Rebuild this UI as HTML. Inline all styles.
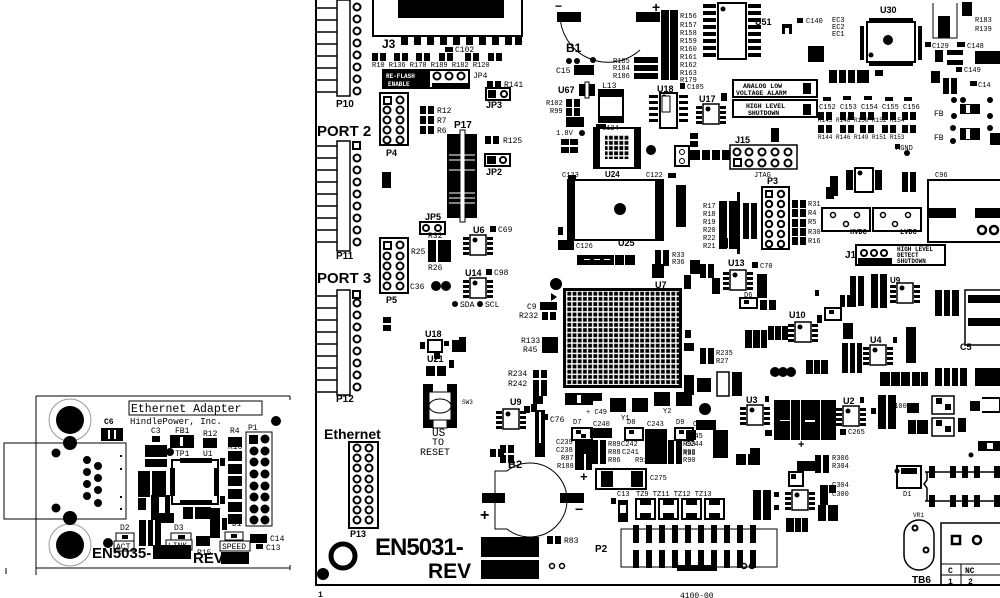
<!DOCTYPE html>
<html><head><meta charset="utf-8"><style>
html,body{margin:0;padding:0;background:#fff;}
svg{display:block}
text{font-family:"Liberation Mono",monospace;font-weight:bold;fill:#000}
.s{font-size:8px}
.m{font-size:10px}
.b{font-family:"Liberation Sans",sans-serif;font-weight:bold}
</style></head><body>
<svg width="1000" height="598" viewBox="0 0 1000 598" xmlns="http://www.w3.org/2000/svg">
<defs>
<pattern id="bga" width="5.2" height="5.2" patternUnits="userSpaceOnUse">
<rect width="5.2" height="5.2" fill="#fff"/><rect x="0.6" y="0.6" width="3.8" height="3.8" fill="#000"/>
</pattern>
<g id="r"><rect width="14" height="8" fill="#000"/><rect x="6" y="0" width="2" height="8" fill="#fff"/></g>
<g id="rv"><rect width="8" height="14" fill="#000"/><rect x="0" y="6" width="8" height="2" fill="#fff"/></g>
<g id="so8"><rect x="0" y="0" width="16" height="20" fill="#fff" stroke="#000" stroke-width="1.5"/><circle cx="5" cy="5" r="2.5"/>
<rect x="-7" y="2" width="6" height="3"/><rect x="-7" y="7" width="6" height="3"/><rect x="-7" y="12" width="6" height="3"/><rect x="-7" y="17" width="6" height="3"/>
<rect x="17" y="2" width="6" height="3"/><rect x="17" y="7" width="6" height="3"/><rect x="17" y="12" width="6" height="3"/><rect x="17" y="17" width="6" height="3"/></g>
</defs>

<!-- ============ LEFT SMALL BOARD ============ -->
<g>
<line x1="36" y1="396" x2="36" y2="575" stroke="#000" stroke-width="1"/>
<line x1="36" y1="396" x2="290" y2="396" stroke="#000"/>
<line x1="36" y1="568" x2="290" y2="568" stroke="#000"/>
<line x1="290" y1="396" x2="290" y2="400" stroke="#000"/>
<line x1="290" y1="565" x2="290" y2="570" stroke="#000"/>
<line x1="6" y1="568" x2="6" y2="574" stroke="#000"/>
<rect x="4" y="443" width="122" height="76" fill="none" stroke="#000"/>
<circle cx="70" cy="420" r="21" fill="#fff" stroke="#999" stroke-width="1"/>
<circle cx="70" cy="420" r="14"/>
<circle cx="70" cy="545" r="21" fill="#fff" stroke="#999"/>
<circle cx="70" cy="545" r="14"/>
<circle cx="70" cy="443" r="7"/><circle cx="70" cy="518" r="7"/>
<circle cx="56" cy="453" r="4.5"/><circle cx="56" cy="508" r="4.5"/>
<circle cx="87" cy="460" r="4"/><circle cx="87" cy="472" r="4"/><circle cx="87" cy="484" r="4"/><circle cx="87" cy="496" r="4"/>
<circle cx="98" cy="466" r="4"/><circle cx="98" cy="478" r="4"/><circle cx="98" cy="490" r="4"/><circle cx="98" cy="503" r="4"/>
<rect x="120" y="455" width="2" height="2"/><rect x="120" y="468" width="2" height="2"/><rect x="120" y="496" width="2" height="2"/><rect x="120" y="508" width="2" height="2"/>
<text x="104" y="424" class="s">C6</text>
<rect x="101" y="428" width="22" height="13"/><rect x="108" y="430" width="2" height="9" fill="#fff"/><rect x="114" y="430" width="2" height="9" fill="#fff"/>
<rect x="129" y="401" width="133" height="14" fill="#fff" stroke="#000"/>
<text x="131" y="412" style="font-size:11.5px;font-weight:normal">Ethernet Adapter</text>
<text x="130" y="424" style="font-size:9px;font-weight:normal">HindlePower, Inc.</text>
<circle cx="276" cy="421" r="5"/>
<text x="151" y="433" class="s" style="font-weight:normal">C3</text>
<rect x="152" y="436" width="8" height="6"/>
<text x="175" y="433" class="s" style="font-weight:normal">FB1</text>
<rect x="170" y="435" width="24" height="13"/><rect x="180" y="437" width="3" height="9" fill="#fff"/>
<text x="203" y="436" class="s" style="font-weight:normal">R12</text>
<rect x="203" y="438" width="14" height="10"/>
<text x="230" y="433" class="s" style="font-weight:normal">R4</text>
<rect x="228" y="437" width="14" height="10"/>
<rect x="145" y="445" width="22" height="12"/><rect x="145" y="459" width="22" height="8"/>
<circle cx="170" cy="452" r="4"/><text x="175" y="456" class="s" style="font-weight:normal">TP1</text>
<text x="203" y="456" class="s" style="font-weight:normal">U1</text>
<rect x="172" y="460" width="46" height="44" fill="#fff" stroke="#000" stroke-width="2"/>
<rect x="180" y="458" width="32" height="5"/><rect x="180" y="500" width="32" height="5"/>
<rect x="170" y="468" width="5" height="28"/><rect x="214" y="468" width="5" height="28"/>
<rect x="220" y="458" width="5" height="8"/><rect x="220" y="496" width="5" height="8"/>
<rect x="228" y="451" width="14" height="10"/><text x="228" y="449" class="s" style="font-weight:normal">R10</text>
<rect x="228" y="464" width="14" height="10"/><rect x="228" y="476" width="14" height="10"/>
<rect x="228" y="489" width="14" height="10"/><rect x="228" y="502" width="14" height="10"/><rect x="228" y="514" width="14" height="10"/>
<rect x="246" y="432" width="26" height="94" fill="#fff" stroke="#000"/>
<text x="248" y="430" class="s" style="font-weight:normal">P1</text>
<rect x="249" y="435" width="9" height="9"/>
<circle cx="265" cy="439" r="4.5"/>
<g><circle cx="254" cy="451" r="4.5"/><circle cx="265" cy="451" r="4.5"/><circle cx="254" cy="462" r="4.5"/><circle cx="265" cy="462" r="4.5"/><circle cx="254" cy="474" r="4.5"/><circle cx="265" cy="474" r="4.5"/><circle cx="254" cy="486" r="4.5"/><circle cx="265" cy="486" r="4.5"/><circle cx="254" cy="497" r="4.5"/><circle cx="265" cy="497" r="4.5"/><circle cx="254" cy="509" r="4.5"/><circle cx="265" cy="509" r="4.5"/><circle cx="254" cy="520" r="4.5"/><circle cx="265" cy="520" r="4.5"/></g>
<rect x="138" y="471" width="28" height="26"/><rect x="150" y="471" width="2" height="26" fill="#fff"/>
<rect x="138" y="498" width="8" height="12"/><rect x="151" y="495" width="8" height="28"/><rect x="165" y="495" width="5" height="22"/>
<rect x="154" y="513" width="20" height="10"/>
<rect x="183" y="507" width="28" height="12"/><rect x="193" y="507" width="2" height="12" fill="#fff"/>
<rect x="210" y="508" width="10" height="30"/><rect x="222" y="518" width="5" height="12"/>
<rect x="139" y="520" width="22" height="26"/><rect x="146" y="520" width="2" height="26" fill="#fff"/><rect x="153" y="520" width="2" height="26" fill="#fff"/>
<rect x="116" y="533" width="18" height="8" fill="none" stroke="#000"/><rect x="122" y="535" width="6" height="4"/>
<text x="120" y="530" class="s" style="font-weight:normal">D2</text>
<rect x="114" y="541" width="20" height="10" fill="#fff" stroke="#000"/><text x="116" y="549" class="s" style="font-weight:normal">ACT</text>
<circle cx="108" cy="543" r="5"/>
<text x="174" y="530" class="s" style="font-weight:normal">D3</text>
<rect x="171" y="533" width="20" height="8" fill="none" stroke="#000"/><rect x="178" y="535" width="7" height="4"/>
<rect x="166" y="540" width="26" height="10" fill="#fff" stroke="#000"/><text x="168" y="548" class="s" style="font-weight:normal">LINK</text>
<rect x="196" y="536" width="14" height="10"/><text x="197" y="555" class="s" style="font-weight:normal">R15</text>
<text x="232" y="526" class="s" style="font-weight:normal">D1</text>
<rect x="225" y="532" width="18" height="8" fill="none" stroke="#000"/><rect x="231" y="534" width="6" height="4"/>
<rect x="220" y="541" width="30" height="10" fill="#fff" stroke="#000"/><text x="222" y="549" class="s" style="font-weight:normal">SPEED</text>
<rect x="250" y="534" width="17" height="9"/><text x="270" y="541" class="s" style="font-weight:normal">C14</text>
<rect x="256" y="544" width="7" height="5"/><text x="266" y="550" class="s" style="font-weight:normal">C13</text>
<text x="92" y="558" class="b" style="font-size:15px">EN5035-</text>
<rect x="153" y="545" width="38" height="14"/>
<text x="193" y="563" class="b" style="font-size:15px">REV</text>
<rect x="221" y="552" width="28" height="12"/>
</g>

<!-- ============ MAIN BOARD ============ -->
<rect x="315" y="0" width="2" height="586"/>
<rect x="315" y="584" width="685" height="2"/>
<text x="318" y="597" class="s">1</text>
<text x="680" y="598" class="s" style="font-weight:normal">4100-00</text>

<!-- left header pins -->
<g stroke="#000" stroke-width="1.5">
<line x1="316" y1="8" x2="337" y2="8"/><line x1="316" y1="20" x2="337" y2="20"/><line x1="316" y1="32" x2="337" y2="32"/><line x1="316" y1="44" x2="337" y2="44"/><line x1="316" y1="56" x2="337" y2="56"/><line x1="316" y1="68" x2="337" y2="68"/><line x1="316" y1="80" x2="337" y2="80"/><line x1="316" y1="92" x2="337" y2="92"/>
<line x1="316" y1="146" x2="337" y2="146"/><line x1="316" y1="158" x2="337" y2="158"/><line x1="316" y1="170" x2="337" y2="170"/><line x1="316" y1="182" x2="337" y2="182"/><line x1="316" y1="194" x2="337" y2="194"/><line x1="316" y1="206" x2="337" y2="206"/><line x1="316" y1="218" x2="337" y2="218"/><line x1="316" y1="230" x2="337" y2="230"/><line x1="316" y1="242" x2="337" y2="242"/>
<line x1="316" y1="296" x2="337" y2="296"/><line x1="316" y1="308" x2="337" y2="308"/><line x1="316" y1="320" x2="337" y2="320"/><line x1="316" y1="332" x2="337" y2="332"/><line x1="316" y1="344" x2="337" y2="344"/><line x1="316" y1="356" x2="337" y2="356"/><line x1="316" y1="368" x2="337" y2="368"/><line x1="316" y1="380" x2="337" y2="380"/><line x1="316" y1="392" x2="337" y2="392"/>
</g>
<g fill="#fff" stroke="#000" stroke-width="1.5">
<rect x="337" y="0" width="13" height="96"/>
<rect x="337" y="141" width="13" height="110"/>
<rect x="337" y="290" width="13" height="105"/>
</g>
<g fill="none" stroke="#000" stroke-width="2">
<circle cx="357" cy="7" r="3.5"/><circle cx="357" cy="19" r="3.5"/><circle cx="357" cy="31" r="3.5"/><circle cx="357" cy="43" r="3.5"/><circle cx="357" cy="55" r="3.5"/><circle cx="357" cy="67" r="3.5"/><circle cx="357" cy="79" r="3.5"/><circle cx="357" cy="91" r="3.5"/>
<circle cx="357" cy="158" r="3.5"/><circle cx="357" cy="170" r="3.5"/><circle cx="357" cy="182" r="3.5"/><circle cx="357" cy="194" r="3.5"/><circle cx="357" cy="206" r="3.5"/><circle cx="357" cy="218" r="3.5"/><circle cx="357" cy="230" r="3.5"/><circle cx="357" cy="242" r="3.5"/>
<circle cx="357" cy="303" r="3.5"/><circle cx="357" cy="315" r="3.5"/><circle cx="357" cy="327" r="3.5"/><circle cx="357" cy="339" r="3.5"/><circle cx="357" cy="351" r="3.5"/><circle cx="357" cy="363" r="3.5"/><circle cx="357" cy="375" r="3.5"/><circle cx="357" cy="387" r="3.5"/>
</g>
<rect x="353" y="142" width="7" height="7" fill="none" stroke="#000" stroke-width="2"/>
<rect x="353" y="291" width="7" height="7" fill="none" stroke="#000" stroke-width="2"/>
<text x="336" y="107" class="b" style="font-size:10px">P10</text>
<text x="336" y="259" class="b" style="font-size:10px">P11</text>
<text x="336" y="402" class="b" style="font-size:10px">P12</text>
<text x="317" y="136" class="b" style="font-size:15px">PORT 2</text>
<text x="317" y="283" class="b" style="font-size:15px">PORT 3</text>

<!-- J3 -->
<path d="M373 0 V36 H522 V0" fill="none" stroke="#000" stroke-width="2"/>
<rect x="398" y="0" width="106" height="18"/>
<g><rect x="401" y="37" width="7" height="8"/><rect x="414" y="37" width="7" height="8"/><rect x="427" y="37" width="7" height="8"/><rect x="440" y="37" width="7" height="8"/><rect x="453" y="37" width="7" height="8"/><rect x="466" y="37" width="7" height="8"/><rect x="479" y="37" width="7" height="8"/><rect x="492" y="37" width="7" height="8"/><rect x="505" y="37" width="7" height="8"/><rect x="515" y="37" width="7" height="8"/></g>
<text x="382" y="48" class="b" style="font-size:12px">J3</text>
<rect x="445" y="47" width="8" height="5"/><text x="455" y="52" class="s" style="font-weight:normal">C102</text>
<use href="#r" x="372" y="53"/><use href="#r" x="394" y="53"/><use href="#r" x="416" y="53"/><use href="#r" x="439" y="53"/><use href="#r" x="465" y="53"/><use href="#r" x="488" y="53"/>
<text x="372" y="67" class="s" style="font-size:7px;font-weight:normal">R10 R136 R178 R189 R182 R120</text>
<rect x="383" y="70" width="86" height="18" fill="#fff" stroke="#000" stroke-width="2"/>
<rect x="384" y="71" width="46" height="16"/>
<text x="386" y="78" style="font-size:6px;fill:#fff">RE-FLASH</text><text x="388" y="86" style="font-size:6px;fill:#fff">ENABLE</text>
<circle cx="437" cy="76" r="3.5" fill="none" stroke="#000" stroke-width="2"/><circle cx="449" cy="76" r="3.5" fill="none" stroke="#000" stroke-width="2"/><circle cx="461" cy="76" r="3.5" fill="none" stroke="#000" stroke-width="2"/>
<rect x="432" y="83" width="36" height="5"/>
<text x="473" y="78" class="s" style="font-weight:normal">JP4</text>
<use href="#r" x="487" y="81"/><text x="504" y="87" class="s" style="font-weight:normal">R141</text>
<rect x="486" y="88" width="24" height="12" fill="#fff" stroke="#000" stroke-width="2"/><rect x="488" y="90" width="8" height="8"/><circle cx="504" cy="94" r="3" fill="none" stroke="#000" stroke-width="2"/>
<text x="486" y="108" class="b" style="font-size:9px">JP3</text>
<!-- P4 -->
<rect x="380" y="93" width="28" height="52" fill="#fff" stroke="#000" stroke-width="2"/>
<g fill="none" stroke="#000" stroke-width="2"><rect x="384" y="97" width="7" height="7"/><circle cx="400" cy="100" r="3.5"/><circle cx="387" cy="110" r="3.5"/><circle cx="400" cy="110" r="3.5"/><circle cx="387" cy="120" r="3.5"/><circle cx="400" cy="120" r="3.5"/><circle cx="387" cy="130" r="3.5"/><circle cx="400" cy="130" r="3.5"/><circle cx="387" cy="140" r="3.5"/><circle cx="400" cy="140" r="3.5"/></g>
<text x="386" y="156" class="b" style="font-size:9px">P4</text>
<use href="#r" x="420" y="106"/><text x="437" y="113" class="s" style="font-weight:normal">R12</text>
<use href="#r" x="420" y="116"/><text x="437" y="123" class="s" style="font-weight:normal">R7</text>
<use href="#r" x="420" y="126"/><text x="437" y="133" class="s" style="font-weight:normal">R6</text>
<rect x="382" y="172" width="9" height="16"/>
<!-- P17 -->
<rect x="447" y="134" width="30" height="84"/>
<rect x="460" y="130" width="5" height="92" fill="#fff" stroke="#000"/>
<g stroke="#fff" stroke-width="1"><line x1="449" y1="155" x2="475" y2="155"/><line x1="449" y1="160" x2="475" y2="160"/><line x1="449" y1="170" x2="475" y2="170"/><line x1="449" y1="193" x2="475" y2="193"/><line x1="449" y1="198" x2="475" y2="198"/><line x1="449" y1="203" x2="475" y2="203"/></g>
<text x="454" y="128" class="b" style="font-size:10px">P17</text>
<use href="#r" x="485" y="136"/><text x="503" y="143" class="s" style="font-weight:normal">R125</text>
<rect x="485" y="154" width="25" height="12" fill="#fff" stroke="#000" stroke-width="2"/><rect x="487" y="156" width="9" height="8"/><circle cx="503" cy="160" r="3" fill="none" stroke="#000" stroke-width="2"/>
<text x="486" y="175" class="b" style="font-size:9px">JP2</text>
<!-- JP5 -->
<text x="425" y="220" class="b" style="font-size:9px">JP5</text>
<rect x="420" y="222" width="25" height="12" fill="#fff" stroke="#000" stroke-width="2"/><circle cx="426" cy="228" r="3" fill="none" stroke="#000" stroke-width="2"/><circle cx="438" cy="228" r="3" fill="none" stroke="#000" stroke-width="2"/>
<!-- P5 -->
<rect x="380" y="238" width="28" height="55" fill="#fff" stroke="#000" stroke-width="2"/>
<g fill="none" stroke="#000" stroke-width="2"><rect x="384" y="242" width="7" height="7"/><circle cx="400" cy="245" r="3.5"/><circle cx="387" cy="256" r="3.5"/><circle cx="400" cy="256" r="3.5"/><circle cx="387" cy="266" r="3.5"/><circle cx="400" cy="266" r="3.5"/><circle cx="387" cy="276" r="3.5"/><circle cx="400" cy="276" r="3.5"/><circle cx="387" cy="286" r="3.5"/><circle cx="400" cy="286" r="3.5"/></g>
<text x="386" y="303" class="b" style="font-size:9px">P5</text>
<text x="411" y="254" class="s" style="font-weight:normal">R25</text>
<rect x="428" y="240" width="18" height="22"/><rect x="436" y="240" width="2" height="22" fill="#fff"/><rect x="446" y="240" width="5" height="22"/>
<text x="428" y="270" class="s" style="font-weight:normal">R26</text>
<text x="428" y="238" class="s" style="font-weight:normal">R32</text>
<use href="#so8" x="470" y="235"/><text x="473" y="233" class="b" style="font-size:9px">U6</text>
<rect x="490" y="226" width="6" height="6"/><text x="498" y="232" class="s" style="font-weight:normal">C69</text>
<use href="#so8" x="470" y="278"/><text x="465" y="276" class="b" style="font-size:9px">U14</text>
<rect x="486" y="269" width="6" height="6"/><text x="494" y="275" class="s" style="font-weight:normal">C98</text>
<circle cx="436" cy="286" r="5"/><circle cx="446" cy="286" r="5"/><text x="410" y="289" class="s" style="font-weight:normal">C36</text>
<circle cx="455" cy="304" r="3"/><text x="460" y="307" class="s" style="font-weight:normal">SDA</text>
<circle cx="480" cy="304" r="3"/><text x="485" y="307" class="s" style="font-weight:normal">SCL</text>
<use href="#rv" x="383" y="317"/>
<!-- U18/U21/SW3 -->
<text x="425" y="337" class="b" style="font-size:9px">U18</text>
<rect x="428" y="340" width="14" height="12" fill="#fff" stroke="#000" stroke-width="2"/><rect x="420" y="342" width="5" height="7"/><rect x="444" y="341" width="5" height="5"/>
<rect x="434" y="353" width="6" height="6"/>
<text x="427" y="362" class="b" style="font-size:9px">U21</text>
<rect x="426" y="366" width="20" height="10"/><rect x="435" y="366" width="2" height="10" fill="#fff"/><rect x="449" y="360" width="5" height="8"/>
<rect x="452" y="340" width="14" height="12"/><rect x="459" y="337" width="7" height="6"/>
<rect x="423" y="384" width="10" height="44"/><rect x="447" y="384" width="10" height="44"/>
<rect x="429" y="392" width="22" height="28" fill="#fff" stroke="#000"/>
<ellipse cx="440" cy="406" rx="11" ry="7" fill="#fff" stroke="#000"/>
<rect x="433" y="420" width="14" height="8" fill="#fff" stroke="#000"/>
<text x="432" y="436" style="font-size:11px;font-weight:normal">US</text>
<text x="432" y="445" style="font-size:10px;font-weight:normal">TO</text>
<text x="420" y="455" style="font-size:10px;font-weight:normal">RESET</text>
<text x="462" y="404" class="s" style="font-weight:normal;font-size:6px">SW3</text>
<!-- Ethernet / P13 -->
<text x="324" y="439" class="b" style="font-size:14px">Ethernet</text>
<rect x="349" y="442" width="29" height="86" fill="#fff" stroke="#000" stroke-width="2"/>
<g fill="none" stroke="#000" stroke-width="2"><circle cx="357" cy="448" r="3.5"/><circle cx="369" cy="448" r="3.5"/><circle cx="357" cy="458" r="3.5"/><circle cx="369" cy="458" r="3.5"/><circle cx="357" cy="468" r="3.5"/><circle cx="369" cy="468" r="3.5"/><circle cx="357" cy="479" r="3.5"/><circle cx="369" cy="479" r="3.5"/><circle cx="357" cy="489" r="3.5"/><circle cx="369" cy="489" r="3.5"/><circle cx="357" cy="500" r="3.5"/><circle cx="369" cy="500" r="3.5"/><circle cx="357" cy="510" r="3.5"/><circle cx="369" cy="510" r="3.5"/><circle cx="357" cy="520" r="3.5"/><circle cx="369" cy="520" r="3.5"/></g>
<text x="350" y="537" class="b" style="font-size:9px">P13</text>
<circle cx="343" cy="556" r="12" fill="none" stroke="#000" stroke-width="5"/>
<circle cx="323" cy="574" r="6"/>
<text x="375" y="555" class="b" style="font-size:24px;letter-spacing:-1px">EN5031-</text>
<rect x="481" y="537" width="58" height="20"/>
<text x="428" y="578" class="b" style="font-size:21px">REV</text>
<rect x="481" y="560" width="58" height="19"/>
<circle cx="552" cy="566" r="2.5" fill="none" stroke="#000" stroke-width="1.5"/><circle cx="562" cy="566" r="2.5" fill="none" stroke="#000" stroke-width="1.5"/>
<use href="#r" x="547" y="536"/><text x="564" y="543" class="s" style="font-weight:normal">R83</text>
<!-- B2 -->
<path d="M507 471 H495 V529 H507 A37 37 0 1 0 507 471 Z" fill="#fff" stroke="#000" stroke-width="1"/>
<text x="508" y="468" class="b" style="font-size:11px">B2</text>
<rect x="482" y="493" width="23" height="10"/><rect x="560" y="493" width="24" height="10"/>
<text x="480" y="520" class="b" style="font-size:16px">+</text><text x="575" y="514" class="b" style="font-size:14px">−</text>
<!-- area around U9 -->
<rect x="531" y="404" width="6" height="8"/><rect x="535" y="410" width="10" height="40"/><rect x="539" y="412" width="2" height="36" fill="#fff"/>
<use href="#so8" x="503" y="409"/><text x="510" y="405" class="b" style="font-size:9px">U9</text>
<rect x="524" y="406" width="6" height="7"/>
<rect x="533" y="394" width="10" height="10"/>
<use href="#r" x="500" y="445"/><use href="#r" x="500" y="455"/><use href="#r" x="490" y="449"/>
<rect x="535" y="443" width="10" height="14"/>
<rect x="542" y="414" width="6" height="6"/><text x="550" y="422" class="s" style="font-weight:normal">C76</text>
<use href="#r" x="533" y="370"/><use href="#r" x="533" y="380"/><use href="#r" x="533" y="388"/>
<text x="508" y="376" class="s" style="font-weight:normal">R234</text><text x="508" y="386" class="s" style="font-weight:normal">R242</text>
<use href="#r" x="542" y="312"/><text x="519" y="318" class="s" style="font-weight:normal">R232</text>
<rect x="540" y="302" width="17" height="8"/><text x="527" y="309" class="s" style="font-weight:normal">C9</text>
<rect x="542" y="337" width="16" height="16"/><text x="521" y="343" class="s" style="font-weight:normal">R133</text><text x="523" y="352" class="s" style="font-weight:normal">R45</text>

<!-- B1 -->
<path d="M560 12 A48 48 0 0 0 640 50" fill="none" stroke="#000"/>
<rect x="557" y="12" width="24" height="10"/><rect x="636" y="12" width="24" height="10"/>
<text x="555" y="10" class="b" style="font-size:12px">−</text><text x="652" y="12" class="b" style="font-size:14px">+</text>
<text x="566" y="52" class="b" style="font-size:12px">B1</text>
<circle cx="569" cy="61" r="3"/><circle cx="577" cy="61" r="3"/><circle cx="593" cy="60" r="3"/>
<rect x="574" y="65" width="20" height="10"/><text x="556" y="73" class="s" style="font-weight:normal">C15</text>
<rect x="661" y="10" width="17" height="70"/><rect x="669" y="10" width="1" height="70" fill="#fff"/>
<g><rect x="634" y="57" width="24" height="6"/><rect x="634" y="65" width="24" height="6"/><rect x="634" y="73" width="24" height="6"/></g>
<text x="613" y="63" class="s" style="font-size:7px;font-weight:normal">R185</text>
<text x="613" y="70" class="s" style="font-size:7px;font-weight:normal">R184</text>
<text x="613" y="78" class="s" style="font-size:7px;font-weight:normal">R186</text>
<text x="680" y="18" class="s" style="font-size:7px;font-weight:normal">R156</text>
<text x="680" y="27" class="s" style="font-size:7px;font-weight:normal">R157</text>
<text x="680" y="35" class="s" style="font-size:7px;font-weight:normal">R158</text>
<text x="680" y="43" class="s" style="font-size:7px;font-weight:normal">R159</text>
<text x="680" y="51" class="s" style="font-size:7px;font-weight:normal">R160</text>
<text x="680" y="59" class="s" style="font-size:7px;font-weight:normal">R161</text>
<text x="680" y="67" class="s" style="font-size:7px;font-weight:normal">R162</text>
<text x="680" y="75" class="s" style="font-size:7px;font-weight:normal">R163</text>
<text x="680" y="82" class="s" style="font-size:7px;font-weight:normal">R179</text>
<!-- U20 soic -->
<rect x="718" y="3" width="28" height="56" fill="#fff" stroke="#000" stroke-width="2"/>
<g><rect x="703" y="4" width="13" height="4"/><rect x="703" y="11" width="13" height="4"/><rect x="703" y="18" width="13" height="4"/><rect x="703" y="25" width="13" height="4"/><rect x="703" y="32" width="13" height="4"/><rect x="703" y="39" width="13" height="4"/><rect x="703" y="46" width="13" height="4"/><rect x="703" y="53" width="13" height="4"/>
<rect x="748" y="4" width="13" height="4"/><rect x="748" y="11" width="13" height="4"/><rect x="748" y="18" width="13" height="4"/><rect x="748" y="25" width="13" height="4"/><rect x="748" y="32" width="13" height="4"/><rect x="748" y="39" width="13" height="4"/><rect x="748" y="46" width="13" height="4"/><rect x="748" y="53" width="13" height="4"/></g>
<circle cx="723" cy="9" r="2.5"/>
<!-- U67, L13 -->
<text x="558" y="93" class="b" style="font-size:9px">U67</text>
<rect x="579" y="84" width="16" height="12"/><rect x="585" y="82" width="4" height="16" fill="#fff" stroke="#000"/>
<text x="602" y="88" class="s" style="font-weight:normal">L13</text>
<rect x="599" y="90" width="24" height="32" fill="#fff" stroke="#000" stroke-width="2"/><rect x="599" y="90" width="24" height="7"/><rect x="599" y="116" width="24" height="6"/>
<use href="#r" x="566" y="99"/><use href="#r" x="566" y="108"/><rect x="566" y="117" width="18" height="10"/>
<text x="546" y="105" class="s" style="font-size:7px;font-weight:normal">R102</text><text x="550" y="113" class="s" style="font-size:7px;font-weight:normal">R99</text>
<text x="556" y="135" class="s" style="font-size:7px;font-weight:normal">1.8V</text><circle cx="582" cy="133" r="3"/>
<use href="#rv" x="561" y="139"/><use href="#rv" x="570" y="139"/>
<!-- U24 -->
<rect x="594" y="128" width="46" height="40" fill="#fff" stroke="#000" stroke-width="2"/>
<rect x="595" y="129" width="5" height="38"/><rect x="634" y="129" width="5" height="38"/>
<rect x="605" y="135" width="24" height="24" fill="url(#bga)"/>
<rect x="596" y="124" width="10" height="5"/>
<text x="602" y="130" class="s" style="font-weight:normal;font-size:7px">C124</text>
<text x="605" y="177" class="b" style="font-size:8px">U24</text>
<circle cx="651" cy="150" r="5"/>
<!-- U18, U17 -->
<text x="657" y="92" class="b" style="font-size:9px">U18</text><rect x="680" y="83" width="5" height="6"/><text x="687" y="89" class="s" style="font-size:7px;font-weight:normal">C105</text>
<rect x="660" y="93" width="17" height="35" fill="#fff" stroke="#000" stroke-width="2"/><circle cx="664" cy="97" r="2.5"/>
<g><rect x="649" y="95" width="9" height="3"/><rect x="649" y="101" width="9" height="3"/><rect x="649" y="107" width="9" height="3"/><rect x="649" y="113" width="9" height="3"/><rect x="649" y="119" width="9" height="3"/><rect x="679" y="95" width="9" height="3"/><rect x="679" y="101" width="9" height="3"/><rect x="679" y="107" width="9" height="3"/><rect x="679" y="113" width="9" height="3"/><rect x="679" y="119" width="9" height="3"/></g>
<text x="699" y="102" class="b" style="font-size:9px">U17</text>
<use href="#so8" x="703" y="104"/>
<rect x="721" y="93" width="6" height="8"/>
<use href="#rv" x="690" y="133"/><rect x="690" y="150" width="40" height="10"/><rect x="700" y="150" width="2" height="10" fill="#fff"/><rect x="710" y="150" width="2" height="10" fill="#fff"/><rect x="720" y="150" width="2" height="10" fill="#fff"/>
<rect x="675" y="146" width="14" height="20" fill="#fff" stroke="#000" stroke-width="2"/><circle cx="682" cy="152" r="2.5" fill="none" stroke="#000"/><circle cx="682" cy="161" r="2.5" fill="none" stroke="#000"/>
<!-- boxes analog / high level -->
<rect x="733" y="80" width="84" height="17" fill="#fff" stroke="#000" stroke-width="2"/>
<text x="743" y="88" style="font-size:6.5px">ANALOG LOW</text><text x="736" y="95" style="font-size:6.5px">VOLTAGE ALARM</text>
<rect x="803" y="83" width="8" height="11"/>
<rect x="733" y="100" width="84" height="17" fill="#fff" stroke="#000" stroke-width="2"/>
<text x="746" y="108" style="font-size:6.5px">HIGH LEVEL</text><text x="748" y="115" style="font-size:6.5px">SHUTDOWN</text>
<rect x="803" y="104" width="8" height="11"/>
<text x="755" y="25" class="b" style="font-size:9px">U51</text>
<rect x="782" y="24" width="10" height="10"/><rect x="785" y="28" width="4" height="6" fill="#fff"/>
<rect x="797" y="18" width="6" height="5"/><text x="806" y="23" class="s" style="font-size:7px;font-weight:normal">C140</text>
<text x="832" y="22" class="s" style="font-size:7px;font-weight:normal">EC3</text><text x="832" y="29" class="s" style="font-size:7px;font-weight:normal">EC2</text><text x="832" y="36" class="s" style="font-size:7px;font-weight:normal">EC1</text>
<rect x="808" y="46" width="16" height="16"/>
<rect x="829" y="70" width="40" height="13"/><rect x="837" y="70" width="2" height="13" fill="#fff"/><rect x="846" y="70" width="2" height="13" fill="#fff"/><rect x="855" y="70" width="2" height="13" fill="#fff"/>
<rect x="875" y="70" width="8" height="6"/>
<rect x="823" y="97" width="8" height="4"/><rect x="843" y="96" width="8" height="4"/><rect x="864" y="96" width="8" height="4"/><rect x="885" y="97" width="8" height="4"/><rect x="904" y="97" width="8" height="4"/>
<text x="819" y="109" class="s" style="font-size:7px;font-weight:normal">C152 C153 C154 C155 C156</text>
<g><use href="#r" x="818" y="112"/><use href="#r" x="840" y="112"/><use href="#r" x="860" y="112"/><use href="#r" x="882" y="112"/><use href="#r" x="902" y="112"/>
<use href="#r" x="818" y="125"/><use href="#r" x="840" y="125"/><use href="#r" x="860" y="125"/><use href="#r" x="882" y="125"/><use href="#r" x="902" y="125"/></g>
<text x="818" y="122" class="s" style="font-size:6px;font-weight:normal">R145 R148 R150 R152 R154</text>
<text x="818" y="139" class="s" style="font-size:6px;font-weight:normal">R144 R146 R149 R151 R153</text>
<!-- U30 -->
<rect x="867" y="22" width="48" height="40" fill="#fff" stroke="#000" stroke-width="2"/>
<rect x="869" y="18" width="44" height="4"/><rect x="869" y="62" width="44" height="4"/><rect x="860" y="26" width="4" height="34"/><rect x="918" y="26" width="4" height="34"/>
<circle cx="888" cy="40" r="5"/><circle cx="871" cy="55" r="2.5"/>
<text x="880" y="13" class="b" style="font-size:9px">U30</text>
<path d="M933 3 V38 H957 V3" fill="none" stroke="#000"/><rect x="938" y="16" width="12" height="22"/>
<rect x="962" y="2" width="10" height="14"/><text x="975" y="22" class="s" style="font-size:7px;font-weight:normal">R183</text><text x="975" y="31" class="s" style="font-size:7px;font-weight:normal">R139</text>
<rect x="925" y="42" width="6" height="5"/><text x="932" y="48" class="s" style="font-size:7px;font-weight:normal">C129</text>
<rect x="957" y="42" width="8" height="5"/><text x="967" y="48" class="s" style="font-size:7px;font-weight:normal">C148</text>
<rect x="947" y="50" width="16" height="5"/><rect x="947" y="60" width="16" height="5"/>
<rect x="975" y="51" width="25" height="13"/>
<rect x="956" y="67" width="6" height="5"/><text x="964" y="72" class="s" style="font-size:7px;font-weight:normal">C149</text>
<rect x="943" y="78" width="14" height="16"/><rect x="949" y="78" width="2" height="16" fill="#fff"/>
<rect x="970" y="81" width="7" height="5"/><text x="978" y="87" class="s" style="font-size:7px;font-weight:normal">C14</text>
<rect x="935" y="50" width="8" height="12"/><rect x="931" y="71" width="9" height="12"/>
<g><circle cx="954" cy="100" r="3"/><circle cx="963" cy="100" r="3"/><circle cx="990" cy="100" r="3"/><circle cx="954" cy="116" r="3"/><circle cx="990" cy="116" r="3"/></g>
<rect x="960" y="104" width="20" height="10"/><rect x="966" y="105" width="4" height="8" fill="#fff"/>
<rect x="960" y="128" width="20" height="12"/><rect x="966" y="129" width="4" height="10" fill="#fff"/>
<circle cx="953" cy="128" r="3"/><circle cx="953" cy="141" r="3"/><circle cx="990" cy="128" r="3"/><rect x="990" y="133" width="10" height="12"/>
<text x="934" y="116" class="s" style="font-weight:normal">FB</text><text x="934" y="140" class="s" style="font-weight:normal">FB</text>
<text x="896" y="150" class="s" style="font-size:7px;font-weight:normal">AGND</text><circle cx="907" cy="153" r="3"/>
<rect x="895" y="144" width="5" height="5"/>
<!-- JTAG J15 -->
<text x="735" y="143" class="b" style="font-size:9px">J15</text>
<rect x="730" y="145" width="67" height="24" fill="#fff" stroke="#000" stroke-width="1.5"/>
<g fill="none" stroke="#000" stroke-width="2"><circle cx="737" cy="152" r="3.5"/><circle cx="749" cy="152" r="3.5"/><circle cx="762" cy="152" r="3.5"/><circle cx="775" cy="152" r="3.5"/><circle cx="788" cy="152" r="3.5"/><rect x="734" y="159" width="7" height="7"/><circle cx="749" cy="163" r="3.5"/><circle cx="762" cy="163" r="3.5"/><circle cx="775" cy="163" r="3.5"/><circle cx="788" cy="163" r="3.5"/></g>
<text x="754" y="177" class="s" style="font-size:7px;font-weight:normal">JTAG</text>
<rect x="771" y="128" width="8" height="14"/>
<!-- P3 -->
<text x="767" y="184" class="b" style="font-size:9px">P3</text>
<rect x="762" y="187" width="27" height="62" fill="#fff" stroke="#000" stroke-width="2"/>
<g fill="none" stroke="#000" stroke-width="2"><rect x="766" y="191" width="6" height="6"/><circle cx="781" cy="194" r="3.2"/><circle cx="769" cy="204" r="3.2"/><circle cx="781" cy="204" r="3.2"/><circle cx="769" cy="214" r="3.2"/><circle cx="781" cy="214" r="3.2"/><circle cx="769" cy="224" r="3.2"/><circle cx="781" cy="224" r="3.2"/><circle cx="769" cy="234" r="3.2"/><circle cx="781" cy="234" r="3.2"/><circle cx="769" cy="244" r="3.2"/><circle cx="781" cy="244" r="3.2"/></g>
<rect x="743" y="203" width="14" height="36"/><rect x="749" y="203" width="2" height="36" fill="#fff"/>
<rect x="737" y="192" width="3" height="62"/>
<use href="#r" x="792" y="200"/><use href="#r" x="792" y="209"/><use href="#r" x="792" y="219"/><use href="#r" x="792" y="228"/><use href="#r" x="792" y="237"/>
<text x="808" y="206" class="s" style="font-size:7px;font-weight:normal">R31</text><text x="808" y="215" class="s" style="font-size:7px;font-weight:normal">R4</text><text x="808" y="224" class="s" style="font-weight:normal;font-size:7px">R5</text><text x="808" y="234" class="s" style="font-size:7px;font-weight:normal">R30</text><text x="808" y="243" class="s" style="font-size:7px;font-weight:normal">R16</text>
<text x="703" y="208" class="s" style="font-size:7px;font-weight:normal">R17</text><text x="703" y="216" class="s" style="font-size:7px;font-weight:normal">R18</text><text x="703" y="224" class="s" style="font-size:7px;font-weight:normal">R19</text><text x="703" y="232" class="s" style="font-size:7px;font-weight:normal">R20</text><text x="703" y="240" class="s" style="font-size:7px;font-weight:normal">R22</text><text x="703" y="248" class="s" style="font-size:7px;font-weight:normal">R21</text>
<rect x="719" y="201" width="18" height="48"/><rect x="727" y="201" width="2" height="48" fill="#fff"/>
<!-- U11, HVDC/LVDC -->
<rect x="855" y="168" width="18" height="24" fill="#fff" stroke="#000" stroke-width="2"/><circle cx="860" cy="173" r="2.5"/>
<rect x="846" y="170" width="7" height="20"/><rect x="875" y="170" width="7" height="20"/>
<rect x="830" y="176" width="8" height="20"/><rect x="826" y="187" width="8" height="12"/>
<rect x="902" y="172" width="14" height="20"/><rect x="908" y="172" width="2" height="20" fill="#fff"/>
<rect x="822" y="208" width="48" height="23" fill="#fff" stroke="#000" stroke-width="2"/>
<circle cx="833" cy="215" r="2.5" fill="none" stroke="#000" stroke-width="1.5"/><circle cx="857" cy="215" r="2.5" fill="none" stroke="#000" stroke-width="1.5"/><circle cx="846" cy="224" r="2.5" fill="none" stroke="#000" stroke-width="1.5"/>
<text x="850" y="234" style="font-size:7px">HVDC</text>
<rect x="873" y="208" width="48" height="23" fill="#fff" stroke="#000" stroke-width="2"/>
<circle cx="883" cy="215" r="2.5" fill="none" stroke="#000" stroke-width="1.5"/><circle cx="908" cy="215" r="2.5" fill="none" stroke="#000" stroke-width="1.5"/><circle cx="895" cy="224" r="2.5" fill="none" stroke="#000" stroke-width="1.5"/>
<text x="900" y="234" style="font-size:7px">LVDC</text>
<!-- C96 -->
<path d="M1000 180 H928 V242 H1000" fill="none" stroke="#000" stroke-width="2"/>
<rect x="928" y="208" width="28" height="10"/><rect x="975" y="208" width="25" height="10"/>
<circle cx="982" cy="230" r="4" fill="none" stroke="#000" stroke-width="2.5"/><circle cx="994" cy="230" r="4" fill="none" stroke="#000" stroke-width="2.5"/>
<text x="935" y="177" class="s" style="font-size:7px;font-weight:normal">C96</text>
<!-- J1 -->
<text x="845" y="258" class="b" style="font-size:10px">J1</text>
<rect x="856" y="245" width="89" height="20" fill="#fff" stroke="#000" stroke-width="2"/>
<circle cx="864" cy="253" r="3" fill="none" stroke="#000" stroke-width="2"/><circle cx="874" cy="253" r="3" fill="none" stroke="#000" stroke-width="2"/><circle cx="884" cy="253" r="3" fill="none" stroke="#000" stroke-width="2"/>
<rect x="858" y="258" width="34" height="6"/>
<text x="897" y="251" style="font-size:6px">HIGH LEVEL</text><text x="897" y="257" style="font-size:6px">DETECT</text><text x="897" y="263" style="font-size:6px">SHUTDOWN</text>

<!-- U25 -->
<rect x="568" y="180" width="95" height="60" fill="#fff" stroke="#000" stroke-width="2"/>
<rect x="568" y="180" width="7" height="60"/><rect x="655" y="180" width="7" height="60"/>
<circle cx="620" cy="209" r="6"/>
<rect x="568" y="175" width="8" height="5"/><rect x="668" y="173" width="8" height="5"/>
<text x="562" y="177" class="s" style="font-size:7px;font-weight:normal">C123</text><text x="646" y="177" class="s" style="font-size:7px;font-weight:normal">C122</text>
<rect x="676" y="185" width="10" height="42"/><rect x="558" y="227" width="5" height="8"/>
<rect x="558" y="240" width="16" height="10"/><text x="576" y="248" class="s" style="font-size:7px;font-weight:normal">C126</text>
<text x="618" y="246" class="b" style="font-size:9px">U25</text>
<rect x="577" y="255" width="58" height="10"/><g fill="#fff"><rect x="584" y="259" width="6" height="1"/><rect x="594" y="259" width="6" height="1"/><rect x="604" y="259" width="6" height="1"/><rect x="614" y="255" width="1" height="10"/><rect x="624" y="255" width="1" height="10"/></g>
<use href="#r" x="655" y="250"/><use href="#r" x="655" y="258"/><text x="672" y="257" class="s" style="font-size:7px;font-weight:normal">R33</text><text x="672" y="264" class="s" style="font-size:7px;font-weight:normal">R36</text>
<rect x="652" y="264" width="12" height="14"/>
<rect x="700" y="264" width="14" height="14"/><rect x="706" y="264" width="2" height="14" fill="#fff"/>
<circle cx="556" cy="284" r="6"/><path d="M551 293 L557 297 L551 301 Z"/>
<!-- BGA U7 -->
<rect x="563" y="288" width="119" height="100" fill="#000"/>
<rect x="566" y="291" width="113" height="94" fill="url(#bga)"/>
<text x="655" y="288" class="b" style="font-size:9px">U7</text>
<rect x="685" y="330" width="6" height="8"/><rect x="684" y="343" width="10" height="8"/><rect x="684" y="375" width="10" height="20"/>
<use href="#r" x="700" y="348"/><use href="#r" x="700" y="356"/><text x="716" y="355" class="s" style="font-size:7px;font-weight:normal">R235</text><text x="716" y="363" class="s" style="font-size:7px;font-weight:normal">R27</text>
<rect x="717" y="372" width="12" height="24" fill="#fff" stroke="#000" stroke-width="1.5"/><rect x="732" y="372" width="10" height="24"/>
<rect x="697" y="378" width="14" height="14"/>
<circle cx="705" cy="409" r="6"/>
<!-- bottom middle row -->
<rect x="565" y="393" width="28" height="12"/><rect x="577" y="395" width="4" height="8" fill="#fff"/><rect x="593" y="393" width="9" height="8"/>
<text x="586" y="414" class="s" style="font-size:7px;font-weight:normal">+ C49</text>
<rect x="610" y="398" width="16" height="14"/><rect x="632" y="398" width="16" height="14"/>
<rect x="654" y="392" width="16" height="14"/><rect x="676" y="392" width="16" height="14"/>
<text x="621" y="420" class="s" style="font-size:7px;font-weight:normal">Y1</text><text x="663" y="413" class="s" style="font-size:7px;font-weight:normal">Y2</text>
<!-- D7 D8 D9 area -->
<text x="573" y="424" class="s" style="font-size:7px;font-weight:normal">D7</text>
<rect x="572" y="428" width="20" height="12" fill="#fff" stroke="#000" stroke-width="2"/><rect x="576" y="430" width="5" height="4"/><rect x="581" y="434" width="5" height="4"/>
<rect x="575" y="440" width="17" height="30"/>
<rect x="590" y="428" width="22" height="10"/><text x="593" y="426" class="s" style="font-size:7px;font-weight:normal">C240</text>
<text x="556" y="444" class="s" style="font-size:7px;font-weight:normal">C239</text><text x="556" y="452" class="s" style="font-size:7px;font-weight:normal">C238</text><text x="561" y="460" class="s" style="font-size:7px;font-weight:normal">R87</text><text x="557" y="468" class="s" style="font-size:7px;font-weight:normal">R188</text>
<use href="#r" x="578" y="454"/><use href="#r" x="578" y="462"/>
<use href="#r" x="592" y="440"/><use href="#r" x="592" y="448"/><use href="#r" x="592" y="456"/>
<text x="608" y="446" class="s" style="font-size:7px;font-weight:normal">R89</text><text x="608" y="454" class="s" style="font-size:7px;font-weight:normal">R88</text><text x="608" y="462" class="s" style="font-size:7px;font-weight:normal">R86</text>
<text x="627" y="424" class="s" style="font-size:7px;font-weight:normal">D8</text>
<rect x="625" y="428" width="18" height="12" fill="#fff" stroke="#000" stroke-width="2"/><rect x="629" y="430" width="5" height="4"/>
<text x="647" y="426" class="s" style="font-size:7px;font-weight:normal">C243</text>
<rect x="645" y="429" width="22" height="35"/>
<text x="621" y="446" class="s" style="font-size:7px;font-weight:normal">C242</text><text x="622" y="454" class="s" style="font-size:7px;font-weight:normal">C241</text><text x="635" y="462" class="s" style="font-size:7px;font-weight:normal">R91</text>
<use href="#r" x="668" y="440"/><use href="#r" x="668" y="448"/><use href="#r" x="668" y="456"/>
<text x="683" y="446" class="s" style="font-size:7px;font-weight:normal">R93</text><text x="683" y="454" class="s" style="font-size:7px;font-weight:normal">R92</text><text x="683" y="462" class="s" style="font-size:7px;font-weight:normal">R90</text>
<text x="676" y="424" class="s" style="font-size:7px;font-weight:normal">D9</text>
<rect x="675" y="428" width="18" height="12" fill="#fff" stroke="#000" stroke-width="2"/><rect x="679" y="430" width="5" height="4"/>
<rect x="686" y="430" width="10" height="10"/><text x="693" y="426" class="s" style="font-size:7px;font-weight:normal">C246</text>
<rect x="696" y="420" width="20" height="10"/>
<text x="686" y="438" class="s" style="font-size:7px;font-weight:normal">C245</text><text x="686" y="446" class="s" style="font-size:7px;font-weight:normal">C244</text><text x="683" y="455" class="s" style="font-size:7px;font-weight:normal">R95</text>
<rect x="713" y="430" width="15" height="28"/>
<!-- C275 -->
<text x="580" y="481" class="b" style="font-size:13px">+</text>
<rect x="596" y="469" width="50" height="20" fill="#fff" stroke="#000" stroke-width="2"/><rect x="601" y="471" width="12" height="16"/><rect x="631" y="471" width="12" height="16"/>
<text x="650" y="480" class="s" style="font-size:7px;font-weight:normal">C275</text>
<!-- T zone -->
<text x="617" y="496" class="s" style="font-size:7px;font-weight:normal">C13</text><text x="636" y="496" class="s" style="font-size:7px;font-weight:normal">TZ9 TZ11 TZ12 TZ13</text>
<rect x="611" y="498" width="5" height="6"/><rect x="618" y="500" width="10" height="22"/><rect x="620" y="505" width="6" height="8" fill="#fff"/>
<g><rect x="636" y="499" width="19" height="20" fill="#fff" stroke="#000" stroke-width="2"/><rect x="640" y="499" width="11" height="6"/><rect x="640" y="513" width="11" height="6"/>
<rect x="659" y="499" width="19" height="20" fill="#fff" stroke="#000" stroke-width="2"/><rect x="663" y="499" width="11" height="6"/><rect x="663" y="513" width="11" height="6"/>
<rect x="682" y="499" width="19" height="20" fill="#fff" stroke="#000" stroke-width="2"/><rect x="686" y="499" width="11" height="6"/><rect x="686" y="513" width="11" height="6"/>
<rect x="705" y="499" width="19" height="20" fill="#fff" stroke="#000" stroke-width="2"/><rect x="709" y="499" width="11" height="6"/><rect x="709" y="513" width="11" height="6"/></g>
<!-- P2 -->
<rect x="621" y="529" width="156" height="38" fill="none" stroke="#000"/>
<text x="595" y="552" class="b" style="font-size:10px">P2</text>
<g><rect x="633" y="525" width="6" height="18"/><rect x="646" y="525" width="6" height="18"/><rect x="659" y="525" width="6" height="18"/><rect x="672" y="525" width="6" height="18"/><rect x="685" y="525" width="6" height="18"/><rect x="698" y="525" width="6" height="18"/><rect x="711" y="525" width="6" height="18"/><rect x="724" y="525" width="6" height="18"/><rect x="737" y="525" width="6" height="18"/><rect x="750" y="525" width="6" height="18"/>
<rect x="633" y="550" width="6" height="18"/><rect x="646" y="550" width="6" height="18"/><rect x="659" y="550" width="6" height="18"/><rect x="672" y="550" width="6" height="18"/><rect x="685" y="550" width="6" height="18"/><rect x="698" y="550" width="6" height="18"/><rect x="711" y="550" width="6" height="18"/><rect x="724" y="550" width="6" height="18"/><rect x="737" y="550" width="6" height="18"/><rect x="750" y="550" width="6" height="18"/>
<rect x="677" y="565" width="40" height="6"/></g>
<circle cx="744" cy="566" r="2.5" fill="none" stroke="#000" stroke-width="1.5"/><circle cx="752" cy="566" r="2.5" fill="none" stroke="#000" stroke-width="1.5"/>

<!-- right middle cluster -->
<text x="744" y="297" class="s" style="font-size:7px;font-weight:normal">D6</text>
<rect x="740" y="298" width="17" height="10" fill="#fff" stroke="#000" stroke-width="2"/><rect x="744" y="300" width="5" height="4"/>
<rect x="760" y="300" width="16" height="10"/><rect x="767" y="300" width="2" height="10" fill="#fff"/>
<use href="#so8" x="730" y="270"/><text x="728" y="266" class="b" style="font-size:9px">U13</text>
<rect x="752" y="262" width="6" height="6"/><text x="760" y="268" class="s" style="font-size:7px;font-weight:normal">C70</text>
<rect x="757" y="274" width="10" height="24"/><rect x="712" y="278" width="8" height="16"/>
<use href="#so8" x="795" y="322"/><text x="789" y="318" class="b" style="font-size:9px">U10</text>
<rect x="768" y="326" width="20" height="14"/><rect x="774" y="326" width="1" height="14" fill="#fff"/><rect x="781" y="326" width="1" height="14" fill="#fff"/>
<rect x="817" y="315" width="5" height="8"/>
<rect x="825" y="308" width="16" height="12" fill="#fff" stroke="#000" stroke-width="2"/><rect x="829" y="310" width="5" height="4"/>
<rect x="840" y="295" width="16" height="12"/><rect x="845" y="295" width="2" height="12" fill="#fff"/>
<rect x="843" y="323" width="10" height="16"/>
<rect x="850" y="276" width="14" height="30"/><rect x="856" y="276" width="2" height="30" fill="#fff"/>
<rect x="871" y="274" width="16" height="34"/><rect x="878" y="274" width="2" height="34" fill="#fff"/>
<use href="#so8" x="897" y="283"/><text x="890" y="283" class="b" style="font-size:8px">U9</text>
<rect x="935" y="290" width="24" height="26"/><rect x="942" y="290" width="2" height="26" fill="#fff"/><rect x="950" y="290" width="2" height="26" fill="#fff"/>
<path d="M1000 290 H965 V345 H1000" fill="none" stroke="#000" stroke-width="1.5"/><rect x="968" y="295" width="32" height="8"/><rect x="968" y="318" width="32" height="8"/>
<text x="960" y="350" class="b" style="font-size:9px">C5</text>
<rect x="935" y="368" width="32" height="18"/><rect x="942" y="368" width="2" height="18" fill="#fff"/><rect x="950" y="368" width="2" height="18" fill="#fff"/><rect x="958" y="368" width="2" height="18" fill="#fff"/>
<rect x="975" y="368" width="25" height="18"/>
<use href="#so8" x="870" y="345"/><text x="870" y="343" class="b" style="font-size:9px">U4</text>
<rect x="893" y="337" width="4" height="6"/>
<rect x="906" y="327" width="10" height="36"/>
<rect x="842" y="343" width="20" height="30"/><rect x="848" y="343" width="2" height="30" fill="#fff"/><rect x="855" y="343" width="2" height="30" fill="#fff"/>
<rect x="806" y="360" width="22" height="14"/><rect x="813" y="360" width="1" height="14" fill="#fff"/><rect x="820" y="360" width="1" height="14" fill="#fff"/>
<circle cx="775" cy="372" r="5"/><circle cx="783" cy="372" r="5"/><circle cx="791" cy="372" r="5"/>
<rect x="745" y="330" width="22" height="18"/><rect x="752" y="330" width="1" height="18" fill="#fff"/><rect x="760" y="330" width="1" height="18" fill="#fff"/>
<rect x="880" y="372" width="30" height="14"/><rect x="890" y="372" width="1" height="14" fill="#fff"/><rect x="900" y="372" width="1" height="14" fill="#fff"/>
<rect x="912" y="372" width="16" height="14"/><rect x="920" y="372" width="1" height="14" fill="#fff"/>
<use href="#so8" x="747" y="405"/><text x="746" y="403" class="b" style="font-size:9px">U3</text>
<rect x="765" y="396" width="4" height="6"/><rect x="765" y="430" width="7" height="6"/>
<rect x="774" y="400" width="62" height="40"/>
<g fill="#fff"><rect x="790" y="400" width="1" height="40"/><rect x="800" y="400" width="1" height="40"/><rect x="820" y="400" width="1" height="40"/><rect x="780" y="420" width="10" height="1"/><rect x="805" y="420" width="10" height="2"/></g>
<text x="798" y="448" class="b" style="font-size:11px">+</text>
<use href="#so8" x="843" y="406"/><text x="843" y="404" class="b" style="font-size:9px">U2</text>
<rect x="860" y="397" width="4" height="6"/><rect x="871" y="408" width="5" height="6"/>
<rect x="878" y="395" width="18" height="34"/><rect x="886" y="395" width="2" height="34" fill="#fff"/>
<rect x="840" y="429" width="6" height="6"/><text x="848" y="434" class="s" style="font-size:7px;font-weight:normal">C265</text>
<rect x="907" y="403" width="12" height="10"/><text x="890" y="408" class="s" style="font-size:7px;font-weight:normal">C100</text>
<rect x="932" y="396" width="22" height="18" fill="#fff" stroke="#000" stroke-width="1.5"/><rect x="936" y="398" width="6" height="6"/><rect x="945" y="404" width="6" height="6"/>
<rect x="932" y="418" width="22" height="18" fill="#fff" stroke="#000" stroke-width="1.5"/><rect x="936" y="420" width="6" height="6"/><rect x="945" y="426" width="6" height="6"/>
<rect x="908" y="420" width="20" height="14"/><rect x="916" y="420" width="1" height="14" fill="#fff"/>
<rect x="958" y="418" width="8" height="14"/>
<rect x="970" y="401" width="10" height="10"/><path d="M982 398 H1000 V412 H982" fill="none" stroke="#000" stroke-width="2"/>
<rect x="978" y="441" width="24" height="10"/><rect x="987" y="443" width="6" height="6" fill="#fff"/>
<circle cx="971" cy="455" r="2.5"/>
<rect x="736" y="454" width="24" height="11"/><rect x="746" y="454" width="2" height="11" fill="#fff"/>
<rect x="750" y="448" width="10" height="8"/>
<use href="#so8" x="792" y="490"/>
<rect x="789" y="472" width="14" height="14" fill="#fff" stroke="#000" stroke-width="2"/><rect x="791" y="474" width="5" height="5"/>
<rect x="797" y="461" width="10" height="10"/><rect x="805" y="461" width="12" height="10"/>
<rect x="815" y="455" width="14" height="18"/><rect x="821" y="455" width="2" height="18" fill="#fff"/>
<text x="832" y="460" class="s" style="font-size:7px;font-weight:normal">R306</text><text x="832" y="468" class="s" style="font-size:7px;font-weight:normal">R304</text>
<rect x="753" y="490" width="18" height="30"/><rect x="761" y="490" width="2" height="30" fill="#fff"/>
<rect x="774" y="492" width="5" height="5"/><rect x="774" y="505" width="5" height="5"/>
<rect x="820" y="485" width="8" height="30"/><rect x="829" y="485" width="7" height="8"/>
<rect x="818" y="505" width="20" height="16"/><rect x="826" y="505" width="2" height="16" fill="#fff"/>
<rect x="786" y="518" width="22" height="14"/><rect x="794" y="518" width="1" height="14" fill="#fff"/><rect x="801" y="518" width="1" height="14" fill="#fff"/>
<text x="832" y="487" class="s" style="font-size:7px;font-weight:normal">C304</text><text x="832" y="496" class="s" style="font-size:7px;font-weight:normal">C300</text>
<!-- D1 and right lines -->
<rect x="897" y="466" width="24" height="22" fill="#fff" stroke="#000" stroke-width="2"/><rect x="901" y="468" width="16" height="6"/><circle cx="897" cy="471" r="2.5"/>
<text x="903" y="496" class="s" style="font-size:7px;font-weight:normal">D1</text>
<line x1="925" y1="472" x2="1000" y2="472" stroke="#000" stroke-width="1.5"/>
<line x1="925" y1="501" x2="1000" y2="501" stroke="#000" stroke-width="1.5"/>
<path d="M927 472 V480 L924 484 L927 488 V501" fill="none" stroke="#000" stroke-width="1.5"/>
<g><rect x="929" y="466" width="6" height="12"/><rect x="950" y="466" width="6" height="12"/><rect x="962" y="466" width="6" height="12"/><rect x="974" y="466" width="6" height="12"/><rect x="994" y="466" width="6" height="12"/>
<rect x="929" y="495" width="6" height="12"/><rect x="950" y="495" width="6" height="12"/><rect x="962" y="495" width="6" height="12"/><rect x="974" y="495" width="6" height="12"/><rect x="994" y="495" width="6" height="12"/></g>
<!-- VR1 and TB6 -->
<text x="913" y="517" class="s" style="font-size:6px;font-weight:normal">VR1</text>
<rect x="904" y="520" width="30" height="50" rx="15" fill="none" stroke="#000" stroke-width="1.5"/>
<circle cx="915" cy="528" r="2.5" fill="none" stroke="#000" stroke-width="2"/><circle cx="926" cy="550" r="2.5" fill="none" stroke="#000" stroke-width="2"/>
<path d="M1000 523 H941 V585" fill="none" stroke="#000" stroke-width="1.5"/>
<rect x="952" y="536" width="8" height="8" fill="none" stroke="#000" stroke-width="2.5"/>
<circle cx="977" cy="540" r="4" fill="none" stroke="#000" stroke-width="2.5"/>
<path d="M941 564 H1000 M961 564 V585 M941 575 H1000" fill="none" stroke="#000" stroke-width="1"/>
<text x="948" y="573" style="font-size:8px">C</text><text x="965" y="573" style="font-size:8px">NC</text>
<text x="948" y="584" style="font-size:8px">1</text><text x="968" y="584" style="font-size:8px">2</text>
<text x="912" y="583" class="b" style="font-size:10px">TB6</text>

<!-- scattered small components top right of BGA -->
<rect x="662" y="96" width="8" height="16" fill="#fff" stroke="#000"/>
<rect x="606" y="295" width="1" height="1"/>
<rect x="690" y="260" width="10" height="14"/><rect x="684" y="275" width="7" height="14"/>
<rect x="720" y="238" width="8" height="10"/>
<rect x="815" y="290" width="4" height="6"/>
</svg>
</body></html>
